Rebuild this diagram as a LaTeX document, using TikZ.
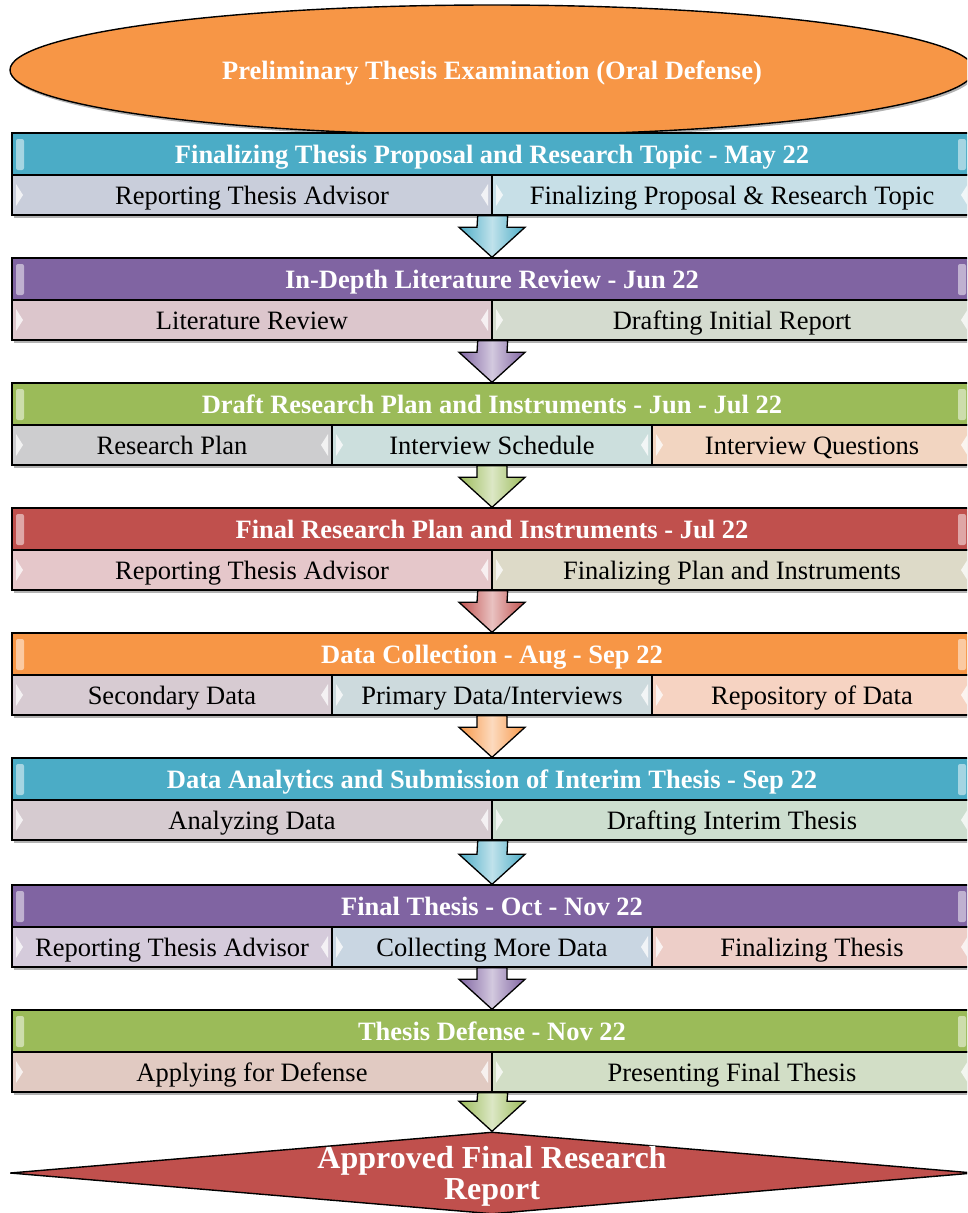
\documentclass[tikz,border=0pt]{standalone}
\usepackage{fontspec}
\setmainfont{Liberation Serif}
\usetikzlibrary{calc,shapes.geometric,shadows}

\definecolor{headblue}{HTML}{4BACC6}
\definecolor{headpurple}{HTML}{8064A2}
\definecolor{headgreen}{HTML}{9BBB59}
\definecolor{headred}{HTML}{C0504D}
\definecolor{headorange}{HTML}{F79646}
% pale cell fills, row by row
\definecolor{cella1}{HTML}{C9CEDB}\definecolor{cellb1}{HTML}{C7DFE7}
\definecolor{cella2}{HTML}{DCC6CC}\definecolor{cellb2}{HTML}{D4DBCF}
\definecolor{cella3}{HTML}{CDCDCF}\definecolor{cellb3}{HTML}{CCDFDD}\definecolor{cellc3}{HTML}{F2D5C1}
\definecolor{cella4}{HTML}{E5C7CA}\definecolor{cellb4}{HTML}{DDDAC8}
\definecolor{cella5}{HTML}{D7CBD2}\definecolor{cellb5}{HTML}{CDDADD}\definecolor{cellc5}{HTML}{F6D3C2}
\definecolor{cella6}{HTML}{D6CBD0}\definecolor{cellb6}{HTML}{CDDECF}
\definecolor{cella7}{HTML}{D5CBDB}\definecolor{cellb7}{HTML}{C9D6E2}\definecolor{cellc7}{HTML}{EDCEC8}
\definecolor{cella8}{HTML}{E1CAC2}\definecolor{cellb8}{HTML}{D2DEC6}

\tikzset{
  boxshadow/.style={drop shadow={shadow xshift=1.5pt, shadow yshift=-2.5pt, opacity=.3, fill=black}},
  headbar/.style={draw=black, line width=1.4pt, boxshadow, minimum width=960pt, minimum height=42pt,
    inner sep=0pt, text height=20pt, text depth=2pt, text=white, font=\bfseries\fontsize{26.5}{28}\selectfont,
    path picture={
      \fill[white, opacity=.5, rounded corners=2pt] ($(path picture bounding box.north west)+(4,6)$) rectangle ++(8,31);
      \fill[white, opacity=.5, rounded corners=2pt] ($(path picture bounding box.north east)+(-14,6)$) rectangle ++(8,31);
    }},
  cellbox/.style={draw=black, line width=1.4pt, boxshadow, minimum height=40pt, inner sep=0pt,
    text height=20pt, text depth=2pt, text=black, font=\fontsize{26.5}{28}\selectfont,
    path picture={
      \fill[white, opacity=.75] ($(path picture bounding box.west)+(4,-11)$) -- ++(7,11) -- ++(-7,11) -- cycle;
      \fill[white, opacity=.75] ($(path picture bounding box.east)+(-4,-11)$) -- ++(-7,11) -- ++(7,11) -- cycle;
    }},
  flowarrow/.style={draw=black, line width=1.3pt, line join=miter, left color=#1, right color=#1, middle color=#1!35!white},
  startoval/.style={ellipse, draw=black, line width=1.4pt, boxshadow, fill=headorange, minimum width=964pt,
    minimum height=130pt, inner sep=0pt, text height=20pt, text depth=2pt, text=white,
    font=\bfseries\fontsize{26.5}{28}\selectfont},
  enddiamond/.style={diamond, draw=black, line width=1.4pt, fill=headred, minimum width=964pt,
    minimum height=82pt, inner sep=0pt},
  endtext/.style={align=center, text=white, inner sep=0pt, font=\bfseries\fontsize{32}{31}\selectfont}
}

% header bar of one stage: name, top, colour, title
\newcommand\stagehead[4]{\node[headbar, fill=#3] (#1) at (492,#2+21) {#4};}
% two cells below a header: name, top, fill left, fill right, text left, text right
\newcommand\twocells[6]{%
  \node[cellbox, minimum width=480pt, fill=#3] (#1a) at (252,#2+20) {#5};
  \node[cellbox, minimum width=480pt, fill=#4] (#1b) at (732,#2+20) {#6};}
% three cells below a header: name, top, fills, texts
\newcommand\threecells[8]{%
  \node[cellbox, minimum width=320pt, fill=#3] (#1a) at (172,#2+20) {#6};
  \node[cellbox, minimum width=320pt, fill=#4] (#1b) at (492,#2+20) {#7};
  \node[cellbox, minimum width=320pt, fill=#5] (#1c) at (812,#2+20) {#8};}
% block arrow: colour, from, to
\newcommand\stagearrow[3]{\draw[flowarrow=#1] ($(#2)+(-15,0)$) -- ($(#2)+(15,0)$) -- ($(#3)+(15,-30)$)
  -- ($(#3)+(33,-30)$) -- (#3) -- ($(#3)+(-33,-30)$) -- ($(#3)+(-15,-30)$) -- cycle;}

\begin{document}
\begin{tikzpicture}[x=1pt, y=-1pt]
  \useasboundingbox (0,0) rectangle (967,1213);
  \fill[white] (0,0) rectangle (967,1213);
  \clip (0,0) rectangle (967,1213);

  %%% start
  \node[startoval] (start) at (492,70) {Preliminary Thesis Examination (Oral Defense)};

  %%% stages
  \stagehead{h1}{133}{headblue}{Finalizing Thesis Proposal and Research Topic - May 22}
  \twocells{c1}{175}{cella1}{cellb1}{Reporting Thesis Advisor}{Finalizing Proposal \& Research Topic}

  \stagehead{h2}{258}{headpurple}{In-Depth Literature Review - Jun 22}
  \twocells{c2}{300}{cella2}{cellb2}{Literature Review}{Drafting Initial Report}

  \stagehead{h3}{383}{headgreen}{Draft Research Plan and Instruments - Jun - Jul 22}
  \threecells{c3}{425}{cella3}{cellb3}{cellc3}{Research Plan}{Interview Schedule}{Interview Questions}

  \stagehead{h4}{508}{headred}{Final Research Plan and Instruments - Jul 22}
  \twocells{c4}{550}{cella4}{cellb4}{Reporting Thesis Advisor}{Finalizing Plan and Instruments}

  \stagehead{h5}{633}{headorange}{Data Collection - Aug - Sep 22}
  \threecells{c5}{675}{cella5}{cellb5}{cellc5}{Secondary Data}{Primary Data/Interviews}{Repository of Data}

  \stagehead{h6}{758}{headblue}{Data Analytics and Submission of Interim Thesis - Sep 22}
  \twocells{c6}{800}{cella6}{cellb6}{Analyzing Data}{Drafting Interim Thesis}

  \stagehead{h7}{885}{headpurple}{Final Thesis - Oct - Nov 22}
  \threecells{c7}{927}{cella7}{cellb7}{cellc7}{Reporting Thesis Advisor}{Collecting More Data}{Finalizing Thesis}

  \stagehead{h8}{1010}{headgreen}{Thesis Defense - Nov 22}
  \twocells{c8}{1052}{cella8}{cellb8}{Applying for Defense}{Presenting Final Thesis}

  %%% end
  \node[enddiamond] (final) at (492,1173) {};
  \node[endtext] (finaltext) at ($(final.center)+(0,3)$) {Approved Final Research\\Report};

  %%% arrows
  \stagearrow{headblue}{c1a.south east}{h2.north}
  \stagearrow{headpurple}{c2a.south east}{h3.north}
  \stagearrow{headgreen}{c3b.south}{h4.north}
  \stagearrow{headred}{c4a.south east}{h5.north}
  \stagearrow{headorange}{c5b.south}{h6.north}
  \stagearrow{headblue}{c6a.south east}{h7.north}
  \stagearrow{headpurple}{c7b.south}{h8.north}
  \stagearrow{headgreen}{c8a.south east}{final.north}
\end{tikzpicture}
\end{document}
